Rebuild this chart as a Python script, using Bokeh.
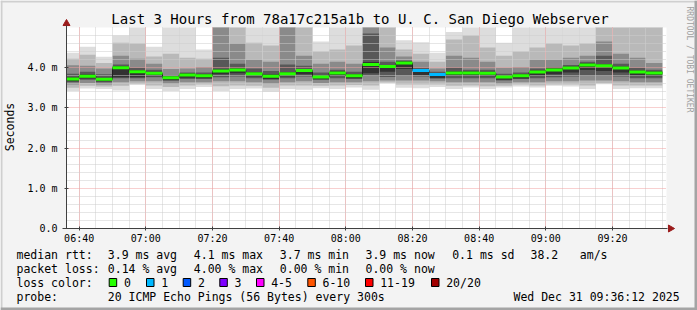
import pandas as pd
from math import pi
from bokeh.plotting import figure
from bokeh.models import (Range1d, FixedTicker, DatetimeTickFormatter, LinearAxis, DatetimeAxis,
                          Grid, ColumnDataSource)
from bokeh.core.properties import value
from bokeh.embed import file_html
from bokeh.resources import INLINE

# ---------------- data ----------------
# 5-minute columns, end times 06:40 ... 09:35 (first column 06:35-06:40)
col_end = pd.date_range("2025-12-31 06:40", periods=36, freq="5min")

median_ms = [3.72, 3.79, 3.71, 4.00, 3.90, 3.86, 3.75, 3.82, 3.80, 3.92, 3.94, 3.85,
             3.79, 3.85, 3.93, 3.77, 3.87, 3.80, 4.08, 4.03, 4.12, 3.93, 3.83, 3.87,
             3.87, 3.86, 3.77, 3.80, 3.89, 3.94, 3.99, 4.07, 4.05, 3.99, 3.89, 3.87]
loss_count = [0, 0, 0, 0, 0, 0, 0, 0, 0, 0, 0, 0,
              0, 0, 0, 0, 0, 0, 0, 0, 0, 1, 1, 0,
              0, 0, 0, 0, 0, 0, 0, 0, 0, 0, 0, 0]

# smoke bands (outer -> inner): upper edges
smoke_hi1 = [4.37, 4.52, 4.27, 4.80, 5.20, 4.52, 5.20, 5.20, 4.45, 5.20, 5.20, 5.20,
             5.20, 5.20, 5.20, 4.65, 5.20, 5.20, 5.20, 5.20, 4.68, 4.63, 4.37, 4.89,
             5.20, 5.20, 4.62, 5.20, 5.20, 5.20, 5.20, 5.20, 5.20, 5.20, 5.20, 5.20]
smoke_hi2 = [4.22, 4.32, 4.12, 4.62, 4.60, 4.28, 4.35, 4.25, 4.22, 5.20, 5.20, 4.62,
             4.55, 5.20, 5.20, 4.40, 4.45, 4.55, 5.20, 5.20, 4.45, 4.35, 4.15, 4.70,
             4.80, 4.50, 4.30, 4.40, 4.50, 4.60, 4.55, 4.60, 5.20, 5.20, 5.20, 5.20]
smoke_hi3 = [4.06, 4.05, 3.98, 4.30, 4.22, 4.10, 3.97, 3.98, 4.02, 5.20, 4.60, 4.20,
             4.15, 5.20, 4.30, 4.10, 4.15, 4.10, 5.20, 4.50, 4.28, 4.15, 3.98, 4.30,
             4.25, 4.15, 4.00, 4.02, 4.20, 4.20, 4.25, 4.30, 4.65, 4.35, 4.25, 4.12]
smoke_hi4 = [3.85, 3.90, 3.84, 4.08, 4.00, 3.95, 3.82, 3.88, 3.88, 4.25, 4.10, 3.98,
             3.92, 4.08, 4.05, 3.88, 3.95, 3.90, 4.85, 4.15, 4.18, 4.00, 3.90, 4.00,
             3.95, 3.95, 3.85, 3.88, 3.98, 4.02, 4.07, 4.15, 4.30, 4.10, 4.00, 3.95]
smoke_hi5 = [3.76, 3.83, 3.75, 4.04, 3.94, 3.90, 3.79, 3.86, 3.84, 3.96, 3.98, 3.89,
             3.83, 3.89, 3.97, 3.81, 3.91, 3.84, 4.14, 4.07, 4.16, 3.97, 3.87, 3.91,
             3.91, 3.90, 3.81, 3.84, 3.93, 3.98, 4.03, 4.11, 4.09, 4.03, 3.93, 3.91]
# lower edges
smoke_lo5 = [3.66, 3.73, 3.66, 3.76, 3.76, 3.79, 3.69, 3.75, 3.74, 3.84, 3.86, 3.78,
             3.72, 3.78, 3.84, 3.71, 3.80, 3.74, 3.86, 3.90, 3.97, 3.82, 3.74, 3.80,
             3.80, 3.79, 3.70, 3.73, 3.80, 3.84, 3.88, 3.94, 3.92, 3.88, 3.80, 3.79]
smoke_lo4 = [3.64, 3.70, 3.64, 3.74, 3.74, 3.76, 3.68, 3.72, 3.72, 3.76, 3.78, 3.74,
             3.70, 3.74, 3.78, 3.70, 3.74, 3.72, 3.80, 3.77, 3.80, 3.78, 3.74, 3.74,
             3.74, 3.74, 3.68, 3.72, 3.74, 3.76, 3.78, 3.80, 3.80, 3.78, 3.74, 3.74]
smoke_lo3 = [3.58, 3.62, 3.58, 3.64, 3.66, 3.66, 3.60, 3.64, 3.64, 3.66, 3.66, 3.64,
             3.60, 3.64, 3.66, 3.62, 3.64, 3.64, 3.66, 3.68, 3.68, 3.68, 3.66, 3.64,
             3.64, 3.64, 3.60, 3.64, 3.64, 3.66, 3.66, 3.68, 3.68, 3.66, 3.64, 3.64]
smoke_lo2 = [3.50, 3.55, 3.53, 3.55, 3.60, 3.56, 3.52, 3.56, 3.58, 3.54, 3.56, 3.55,
             3.50, 3.56, 3.56, 3.55, 3.56, 3.57, 3.56, 3.63, 3.58, 3.58, 3.58, 3.55,
             3.56, 3.54, 3.55, 3.58, 3.56, 3.58, 3.58, 3.56, 3.62, 3.56, 3.56, 3.56]
smoke_lo1 = [3.42, 3.48, 3.47, 3.43, 3.57, 3.47, 3.42, 3.47, 3.52, 3.42, 3.47, 3.48,
             3.40, 3.47, 3.45, 3.49, 3.47, 3.51, 3.45, 3.62, 3.50, 3.49, 3.52, 3.47,
             3.51, 3.47, 3.51, 3.53, 3.51, 3.55, 3.53, 3.47, 3.59, 3.47, 3.49, 3.49]
smoke_colors = ["#dddddd", "#b9b9b9", "#8a8a8a", "#585858", "#323232"]

Y_MAX = 5.0
y_ticks = [0, 1, 2, 3, 4]
y_tick_labels = ["0.0", "1.0 m", "2.0 m", "3.0 m", "4.0 m"]
y_minor = [0.2, 0.4, 0.6, 0.8, 1.2, 1.4, 1.6, 1.8, 2.2, 2.4, 2.6, 2.8,
           3.2, 3.4, 3.6, 3.8, 4.2, 4.4, 4.6, 4.8]
x_tick_labels = ["06:40", "07:00", "07:20", "07:40", "08:00", "08:20", "08:40", "09:00", "09:20"]

loss_legend_labels = ["0", "1", "2", "3", "4-5", "6-10", "11-19", "20/20"]
loss_legend_colors = ["#26ff00", "#00b8ff", "#0059ff", "#7e00ff", "#ff00ff", "#ff5500", "#ff0000", "#a10000"]

title_text = "Last 3 Hours from 78a17c215a1b to U. C. San Diego Webserver"
rtt_items = ["median rtt:", "3.9 ms avg", "4.1 ms max", "3.7 ms min", "3.9 ms now", "0.1 ms sd", "38.2", "am/s"]
loss_items = ["packet loss:", "0.14 % avg", "4.00 % max", "0.00 % min", "0.00 % now"]
probe_items = ["probe:", "20 ICMP Echo Pings (56 Bytes) every 300s", "Wed Dec 31 09:36:12 2025"]

# ---------------- layout helpers (pixel -> data) ----------------
W, H = 697, 310
X_START = pd.Timestamp("2025-12-31 06:36:12")
X_END = pd.Timestamp("2025-12-31 09:36:12")
x0ms = X_START.value / 1e6
x1ms = X_END.value / 1e6
PL, PR, PT, PB = 66, 666, 27, 228          # plot area in pixels
ms_per_px = (x1ms - x0ms) / (PR - PL)
px_per_unit_y = (PB - PT) / Y_MAX


def xd(px):
    return x0ms + (px - PL) * ms_per_px


def yd(py):
    return (PB - py) / px_per_unit_y


MONO = "DejaVu Sans Mono"

p = figure(width=W, height=H, output_backend="svg", toolbar_location=None,
           x_axis_location=None, y_axis_location=None,
           x_range=Range1d(xd(0), xd(W)), y_range=Range1d(yd(H), yd(0)),
           min_border=0, min_border_left=0, min_border_right=0,
           min_border_top=0, min_border_bottom=0)
p.title.visible = False
p.border_fill_color = "#f3f3f3"
p.background_fill_color = "#f3f3f3"
p.outline_line_color = None
p.center = [r for r in p.center if not isinstance(r, Grid)]

# plot area background
bg = p.quad(left=[X_START], right=[X_END], bottom=[0], top=[Y_MAX], fill_color="white", line_color=None)
bg.level = "image"

# ---------------- smoke ----------------
left = [e - pd.Timedelta(minutes=5) for e in col_end]
left[0] = max(left[0], X_START)
right = list(col_end)
bands = [(smoke_lo1, smoke_hi1), (smoke_lo2, smoke_hi2), (smoke_lo3, smoke_hi3),
         (smoke_lo4, smoke_hi4), (smoke_lo5, smoke_hi5)]
for (lo, hi), c in zip(bands, smoke_colors):
    src = ColumnDataSource(dict(left=left, right=right, bottom=lo, top=[min(h, Y_MAX) for h in hi]))
    r = p.quad(left="left", right="right", bottom="bottom", top="top", source=src,
               fill_color=c, line_color=None)
    r.level = "image"

# ---------------- median ----------------
step_x = left + [right[-1]]
step_y = median_ms + [median_ms[-1]]
p.step(step_x, step_y, mode="after", line_color="#202020", line_width=1)
seg_colors = [loss_legend_colors[n] for n in loss_count]
p.segment(x0=left, x1=right, y0=median_ms, y1=median_ms, line_color=seg_colors, line_width=3)

# ---------------- axes / grid ----------------
x_ticks_ms = [pd.Timestamp("2025-12-31 " + t).value / 1e6 for t in x_tick_labels]
x_minor_ms = [t.value / 1e6 for t in pd.date_range("2025-12-31 06:40", "2025-12-31 09:35", freq="5min")]

xaxis = DatetimeAxis(fixed_location=0, bounds=(xd(62), xd(667)),
                     ticker=FixedTicker(ticks=x_ticks_ms, minor_ticks=x_minor_ms),
                     formatter=DatetimeTickFormatter(minutes="%H:%M", hourmin="%H:%M",
                                                     hours="%H:%M", context=None))
yaxis = LinearAxis(fixed_location=x0ms, bounds=(0, yd(25)),
                   ticker=FixedTicker(ticks=y_ticks, minor_ticks=y_minor),
                   major_label_overrides=dict(zip(y_ticks, y_tick_labels)),
                   axis_label="Seconds")
for ax in (xaxis, yaxis):
    ax.axis_line_color = "#404040"
    ax.major_tick_line_color = "#404040"
    ax.major_tick_in = 2
    ax.major_tick_out = 2
    ax.minor_tick_line_color = None
    ax.major_label_text_font = MONO
    ax.major_label_text_font_size = "10px"
    ax.major_label_text_color = "black"
yaxis.major_label_standoff = 5
xaxis.major_label_standoff = 0
yaxis.axis_label_text_font = MONO
yaxis.axis_label_text_font_size = "11.5px"
yaxis.axis_label_text_font_style = "normal"
yaxis.axis_label_text_color = "black"
yaxis.axis_label_standoff = 7
p.add_layout(xaxis, "below")
p.add_layout(yaxis, "left")

xg = Grid(dimension=0, ticker=FixedTicker(ticks=x_ticks_ms, minor_ticks=x_minor_ms),
          bounds=(x0ms, x1ms), cross_bounds=(0, Y_MAX))
yg = Grid(dimension=1, ticker=FixedTicker(ticks=y_ticks, minor_ticks=y_minor),
          bounds=(0, Y_MAX), cross_bounds=(x0ms, x1ms))
for g in (xg, yg):
    g.grid_line_color = "#f0a0a0"
    g.grid_line_dash = "1 1"
    g.grid_line_width = 1
    g.minor_grid_line_color = "#cccccc"
    g.minor_grid_line_dash = "1 1"
    g.minor_grid_line_width = 1
    p.add_layout(g)

# axis arrows
AR = "#9b1b1b"
p.scatter(x=[x0ms], y=[yd(23)], marker="triangle", size=7, fill_color=AR, line_color=AR)
p.scatter(x=[xd(670)], y=[0], marker="triangle", angle=-pi / 2, size=7, fill_color=AR, line_color=AR)

# ---------------- texts ----------------
p.text(x=[xd(359.5)], y=[yd(18)], text=[title_text], text_font=value(MONO), text_font_size=value("14px"),
       text_align="center", text_baseline="middle", text_color="black")
p.text(x=[xd(688.5)], y=[yd(59)], text=["RRDTOOL / TOBI OETIKER"], angle=-pi / 2,
       text_font=value(MONO), text_font_size=value("8px"), text_align="center",
       text_baseline="middle", text_color="#a0a0a0")

row_y = [254, 268, 282, 296]
rtt_x = [16, 107.3, 193.3, 279.3, 365, 451.7, 530, 579.3]
loss_x = [16, 107.3, 193.3, 279.3, 365]
sq_x = [108.7, 146.0, 182.7, 219.3, 256.0, 307.3, 365.0, 431.0]
probe_x = [16, 107.3, 513]

lx, ly, lt = [], [], []
for t, xx in zip(rtt_items, rtt_x):
    lx.append(xd(xx)); ly.append(yd(row_y[0])); lt.append(t)
for t, xx in zip(loss_items, loss_x):
    lx.append(xd(xx)); ly.append(yd(row_y[1])); lt.append(t)
lx.append(xd(16)); ly.append(yd(row_y[2])); lt.append("loss color:")
for t, xx in zip(loss_legend_labels, sq_x):
    lx.append(xd(xx + 14.7)); ly.append(yd(row_y[2])); lt.append(t)
for t, xx in zip(probe_items, probe_x):
    lx.append(xd(xx)); ly.append(yd(row_y[3])); lt.append(t)
p.text(x=lx, y=ly, text=lt, text_font=value(MONO), text_font_size=value("11.5px"),
       text_align="left", text_baseline="middle", text_color="black")

p.quad(left=[xd(xx) for xx in sq_x], right=[xd(xx + 7.5) for xx in sq_x],
       top=[yd(278)] * len(sq_x), bottom=[yd(286)] * len(sq_x),
       fill_color=loss_legend_colors, line_color="black", line_width=1)

# image frame border
p.quad(left=[xd(0), xd(0)], right=[xd(W), xd(2)], top=[yd(0), yd(0)], bottom=[yd(2), yd(H)],
       fill_color="#cfcfcf", line_color=None)
p.quad(left=[xd(W - 3), xd(0)], right=[xd(W), xd(W)], top=[yd(0), yd(H - 3)], bottom=[yd(H), yd(H)],
       fill_color="#a4a4a4", line_color=None)

open("out.html", "w").write(file_html(p, INLINE))
